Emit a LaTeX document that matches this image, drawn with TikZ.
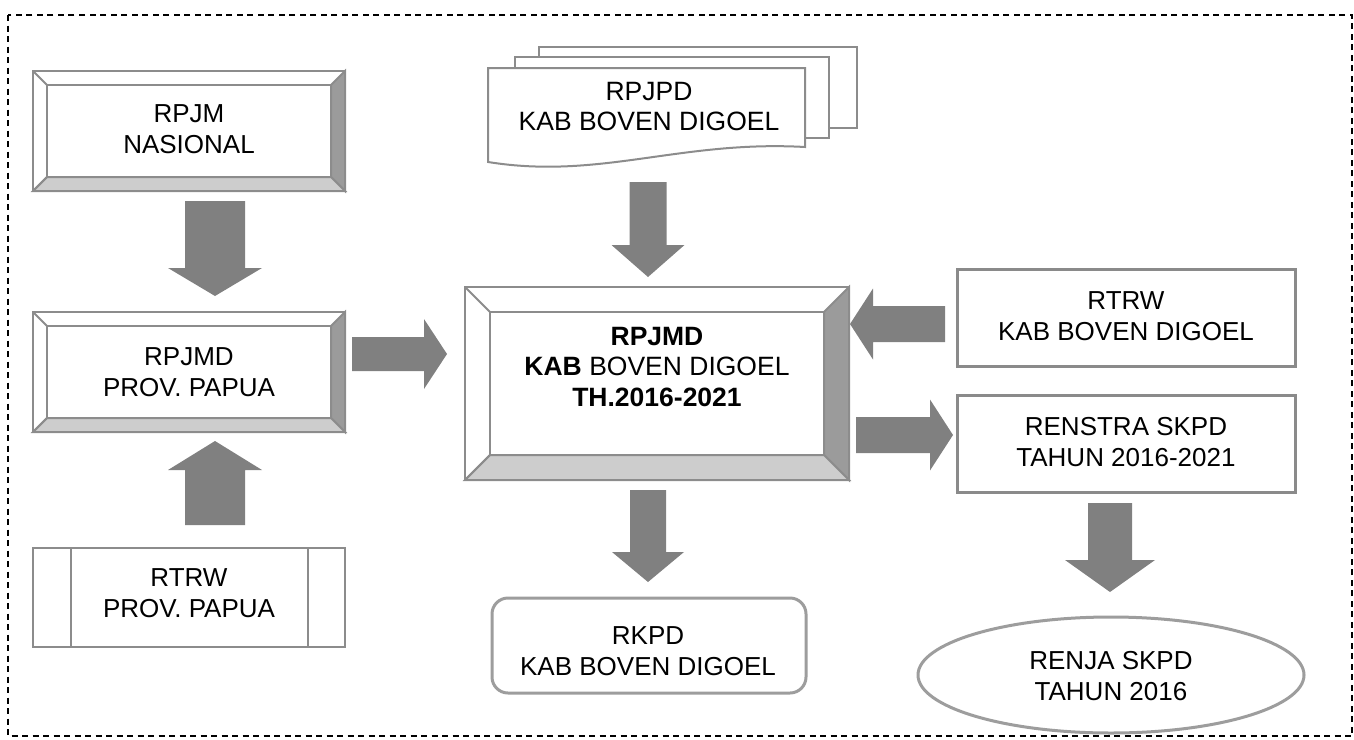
\documentclass[tikz,border=0pt]{standalone}
\usepackage{fontspec}
\setmainfont{Liberation Sans}
\usetikzlibrary{calc}
\definecolor{stk}{RGB}{140,140,140}
\definecolor{bevR}{RGB}{155,155,155}
\definecolor{bevB}{RGB}{205,205,205}
\definecolor{arr}{RGB}{128,128,128}
\definecolor{boxline}{RGB}{138,138,138}
\tikzset{
  bevline/.style={draw=stk, line width=2pt, line join=miter},
  docline/.style={draw=stk, line width=2pt, fill=white},
  plainbox/.style={draw=boxline, line width=3pt, fill=white},
  lbl/.style={font=\fontsize{26}{31}\selectfont, align=center, inner sep=0pt},
}
\newcommand\bevbox[5]{%
 \draw[bevline, fill=white] (#1,#2) rectangle (#3,#4);
 \draw[bevline, fill=bevR] (#3,#2) -- (#3,#4) -- ({#3-#5},{#4-#5}) -- ({#3-#5},{#2+#5}) -- cycle;
 \draw[bevline, fill=bevB] (#1,#4) -- (#3,#4) -- ({#3-#5},{#4-#5}) -- ({#1+#5},{#4-#5}) -- cycle;
 \draw[bevline] (#1,#2) -- ({#1+#5},{#2+#5}) (#1,#4) -- ({#1+#5},{#4-#5});
 \draw[bevline] ({#1+#5},{#2+#5}) rectangle ({#3-#5},{#4-#5});
}
% vertical block arrow: xc, ystart, ytip, shaft half, head half, head length (signed)
\newcommand\varrow[6]{%
 \fill[arr] ({#1-#4},#2) -- ({#1-#4},{#3-(#6)}) -- ({#1-#5},{#3-(#6)}) -- (#1,#3) -- ({#1+#5},{#3-(#6)}) -- ({#1+#4},{#3-(#6)}) -- ({#1+#4},#2) -- cycle;}
% horizontal block arrow: yc, xstart, xtip, shaft half, head half, head length (signed)
\newcommand\harrow[6]{%
 \fill[arr] (#2,{#1-#4}) -- ({#3-(#6)},{#1-#4}) -- ({#3-(#6)},{#1-#5}) -- (#3,#1) -- ({#3-(#6)},{#1+#5}) -- ({#3-(#6)},{#1+#4}) -- (#2,{#1+#4}) -- cycle;}
\begin{document}
\begin{tikzpicture}[x=1pt,y=-1pt]
\useasboundingbox (0,0) rectangle (1354,739);
% frame
\draw[line width=1.3pt, dash pattern=on 6pt off 4.5pt] (8,15) rectangle (1352,736);

% RPJM NASIONAL
\bevbox{33}{71}{345}{191}{14}
\node[lbl] (rpjm) at (189,129) {RPJM\\NASIONAL};

% RPJMD PROV
\bevbox{33}{312}{345}{432}{14}
\node[lbl] (rpjmdprov) at (189,372) {RPJMD\\PROV. PAPUA};

% RTRW PROV
\draw[docline] (33,548) rectangle (345,647);
\draw[docline] (71,548) -- (71,647) (308,548) -- (308,647);
\node[lbl] (rtrwprov) at (189,593) {RTRW\\PROV. PAPUA};

% RPJPD multi-document
\draw[docline] (539,47) rectangle (857,128);
\draw[docline] (515,57) rectangle (829,138);
\draw[docline] (488,68) -- (805,68) -- (805,147) .. controls (680,140) and (600,180) .. (488,162) -- cycle;
\node[lbl, font=\fontsize{26.5}{30}\selectfont] (rpjpd) at (649,107) {RPJPD\\KAB BOVEN DIGOEL};

% central RPJMD
\bevbox{465}{287}{849}{480}{25}
\node[lbl, font=\fontsize{26.5}{30.5}\selectfont] (rpjmd) at (657,367) {\textbf{RPJMD}\\\textbf{KAB} BOVEN DIGOEL\\\textbf{TH.2016-2021}};

% RTRW KAB
\draw[plainbox] (957,269) rectangle (1295,366);
\node[lbl] (rtrwkab) at (1126,316) {RTRW\\KAB BOVEN DIGOEL};

% RENSTRA
\draw[plainbox] (957,395) rectangle (1295,492);
\node[lbl] (renstra) at (1126,442) {RENSTRA SKPD\\TAHUN 2016-2021};

% RKPD
\draw[plainbox, draw=stk!85!white, rounded corners=16pt] (492,598) rectangle (806,693);
\node[lbl] (rkpd) at (648,651) {RKPD\\KAB BOVEN DIGOEL};

% RENJA
\draw[plainbox, draw=stk!85!white] (1111,675) ellipse [x radius=193, y radius=58];
\node[lbl] (renja) at (1111,676) {RENJA SKPD\\TAHUN 2016};

% block arrows
\varrow{215}{201}{296}{30}{47}{28}
\varrow{215}{525}{441}{30}{47}{-29}
\harrow{354}{352}{447}{17}{35}{23}
\varrow{648}{182}{277}{18.5}{36.5}{32}
\harrow{324}{945}{850}{18}{35.5}{-23}
\harrow{435}{856}{953}{18}{35.5}{23}
\varrow{648}{490}{582}{18}{36}{30}
\varrow{1110}{503}{592}{22}{45}{32}
\end{tikzpicture}
\end{document}
